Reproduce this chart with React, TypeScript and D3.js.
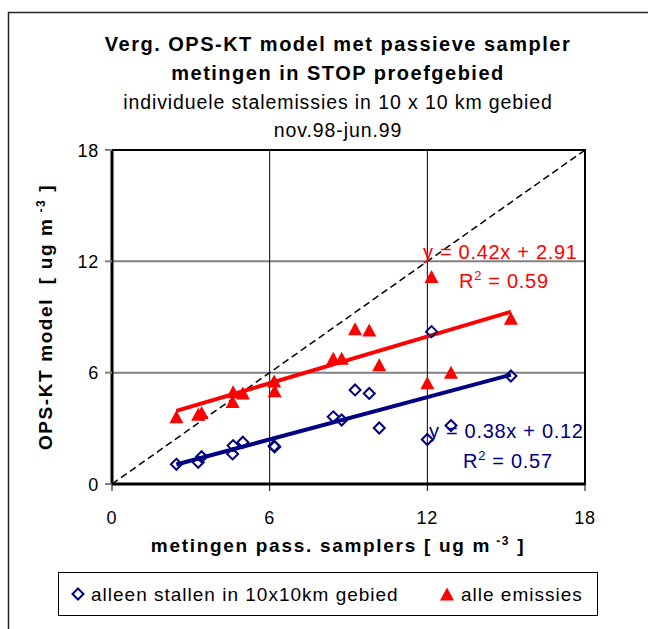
import React from "react";
import * as d3 from "d3";

// Measured concentrations (ug m-3): passive samplers vs OPS-KT model
const measured = [2.45, 3.28, 3.41, 4.59, 4.61, 4.98, 6.17, 6.19, 8.42, 8.74, 9.25, 9.79, 10.17, 12.0, 12.16, 12.9, 15.18];
const modelStallen = [1.06, 1.17, 1.47, 1.62, 2.07, 2.25, 2.05, 2.0, 3.62, 3.45, 5.07, 4.88, 3.02, 2.4, 8.21, 3.15, 5.82];
const modelAlle = [3.63, 3.76, 3.85, 4.45, 4.97, 4.9, 5.55, 5.02, 6.78, 6.78, 8.37, 8.3, 6.43, 5.45, 11.18, 6.02, 8.93];

const xTicks = [0, 6, 12, 18];
const yTicks = [0, 6, 12, 18];

// Linear trendlines as reported
const fitStallen = { slope: 0.38, intercept: 0.12, r2: "0.57" };
const fitAlle = { slope: 0.42, intercept: 2.91, r2: "0.59" };

const titleLines = ["Verg. OPS-KT model met passieve sampler", "metingen in STOP proefgebied"];
const subtitleLines = ["individuele stalemissies in 10 x 10 km gebied", "nov.98-jun.99"];
const legendLabels = ["alleen stallen in 10x10km gebied", "alle emissies"];

const NAVY = "#000080";
const RED = "#FF0000";
const FONT = "Arial, 'Liberation Sans', sans-serif";

const diamond = (r: number) => `M0,${-r}L${r},0L0,${r}L${-r},0Z`;
const triangle = (w: number, h: number) => `M0,${-h / 2}L${w / 2},${h / 2}L${-w / 2},${h / 2}Z`;

export default function App() {
  const x = d3.scaleLinear().domain([0, 18]).range([112, 585]);
  const y = d3.scaleLinear().domain([0, 18]).range([484, 150]);
  const xMin = d3.min(measured) as number;
  const xMax = d3.max(measured) as number;
  const fitLine = (f: { slope: number; intercept: number }) =>
    d3.line<number>().x((v) => x(v)).y((v) => y(f.slope * v + f.intercept))([xMin, xMax]) as string;
  const identity = d3.line<number>().x((v) => x(v)).y((v) => y(v))([0, 18]) as string;

  const titleCx = 338;

  return (
    <svg
      width={648}
      height={629}
      style={{ position: "absolute", left: 0, top: 0, background: "#fff" }}
      fontFamily={FONT}
    >
      <rect x={0} y={0} width={648} height={629} fill="#fff" />
      {/* chart frame */}
      <rect x={8.5} y={12.5} width={700} height={700} fill="none" stroke="#222" strokeWidth={1.5} />

      {/* titles */}
      {titleLines.map((t, i) => (
        <text key={t} x={titleCx} y={51 + i * 29} textAnchor="middle" fontSize={20} fontWeight="bold" letterSpacing={1.5} fill="#000">
          {t}
        </text>
      ))}
      {subtitleLines.map((t, i) => (
        <text key={t} x={titleCx} y={109 + i * 28} textAnchor="middle" fontSize={19.5} letterSpacing={0.9} fill="#000">
          {t}
        </text>
      ))}

      {/* grid */}
      {yTicks.filter((v) => v > 0 && v < 18).map((v) => (
        <line key={"gy" + v} x1={x(0)} x2={x(18)} y1={y(v)} y2={y(v)} stroke="#808080" strokeWidth={2} />
      ))}
      {xTicks.filter((v) => v > 0 && v < 18).map((v) => (
        <line key={"gx" + v} x1={x(v)} x2={x(v)} y1={y(0)} y2={y(18)} stroke="#000" strokeWidth={1} />
      ))}

      {/* plot border and axes */}
      <rect x={x(0)} y={y(18)} width={x(18) - x(0)} height={y(0) - y(18)} fill="none" stroke="#000" strokeWidth={2} />
      <line x1={x(0)} x2={x(0)} y1={y(18)} y2={y(0)} stroke="#000" strokeWidth={3} />
      <line x1={x(0)} x2={x(18)} y1={y(0)} y2={y(0)} stroke="#000" strokeWidth={3} />
      {yTicks.map((v) => (
        <line key={"ty" + v} x1={x(0) - 7} x2={x(0)} y1={y(v)} y2={y(v)} stroke="#808080" strokeWidth={2} />
      ))}
      {xTicks.map((v) => (
        <line key={"tx" + v} x1={x(v)} x2={x(v)} y1={y(0)} y2={y(0) + 7} stroke="#000" strokeWidth={1} />
      ))}
      {yTicks.map((v) => (
        <text key={"ly" + v} x={x(0) - 13} y={y(v) + 6.5} textAnchor="end" fontSize={18} letterSpacing={0.8}>
          {v}
        </text>
      ))}
      {xTicks.map((v) => (
        <text key={"lx" + v} x={x(v)} y={524} textAnchor="middle" fontSize={18} letterSpacing={0.8}>
          {v}
        </text>
      ))}

      {/* axis titles */}
      <text x={338} y={552} textAnchor="middle" fontSize={19} fontWeight="bold" letterSpacing={1.7}>
        metingen pass. samplers [ ug m
        <tspan fontSize={12} dy={-7}> -3</tspan>
        <tspan dy={7}> ]</tspan>
      </text>
      <text
        transform={`translate(52,${(y(0) + y(18)) / 2}) rotate(-90)`}
        textAnchor="middle"
        fontSize={19}
        fontWeight="bold"
        letterSpacing={1.6}
        style={{ whiteSpace: "pre" }}
      >
        {"OPS-KT model  [ ug m"}
        <tspan fontSize={12} dy={-7}> -3</tspan>
        <tspan dy={7}> ]</tspan>
      </text>

      {/* 1:1 line */}
      <path d={identity} stroke="#000" strokeWidth={1.5} strokeDasharray="7,4" fill="none" />

      {/* trendlines */}
      <path d={fitLine(fitStallen)} stroke={NAVY} strokeWidth={4} fill="none" />
      <path d={fitLine(fitAlle)} stroke={RED} strokeWidth={4} fill="none" />

      {/* markers */}
      {measured.map((m, i) => (
        <path key={"d" + i} d={diamond(5.5)} transform={`translate(${x(m)},${y(modelStallen[i])})`} fill="none" stroke={NAVY} strokeWidth={2} />
      ))}
      {measured.map((m, i) => (
        <path key={"t" + i} d={triangle(14, 13)} transform={`translate(${x(m)},${y(modelAlle[i])})`} fill={RED} />
      ))}

      {/* trendline equations */}
      <text x={423} y={259} fontSize={20} letterSpacing={0.7} fill={RED}>
        {`y = ${fitAlle.slope.toFixed(2)}x + ${fitAlle.intercept.toFixed(2)}`}
      </text>
      <text x={459} y={288} fontSize={20} letterSpacing={0.7} fill={RED}>
        R<tspan fontSize={13} dy={-8}>2</tspan>
        <tspan dy={8}>{` = ${fitAlle.r2}`}</tspan>
      </text>
      <text x={429} y={438} fontSize={20} letterSpacing={0.7} fill={NAVY}>
        {`y = ${fitStallen.slope.toFixed(2)}x + ${fitStallen.intercept.toFixed(2)}`}
      </text>
      <text x={463} y={468} fontSize={20} letterSpacing={0.7} fill={NAVY}>
        R<tspan fontSize={13} dy={-8}>2</tspan>
        <tspan dy={8}>{` = ${fitStallen.r2}`}</tspan>
      </text>

      {/* legend */}
      <rect x={58.5} y={572.5} width={539} height={43} fill="#fff" stroke="#000" strokeWidth={1} />
      <path d={diamond(5.5)} transform="translate(78,594)" fill="none" stroke={NAVY} strokeWidth={2} />
      <text x={91} y={600.5} fontSize={19} letterSpacing={1}>
        {legendLabels[0]}
      </text>
      <path d={triangle(14, 13)} transform="translate(447,594)" fill={RED} />
      <text x={461} y={600.5} fontSize={19} letterSpacing={1}>
        {legendLabels[1]}
      </text>
    </svg>
  );
}
